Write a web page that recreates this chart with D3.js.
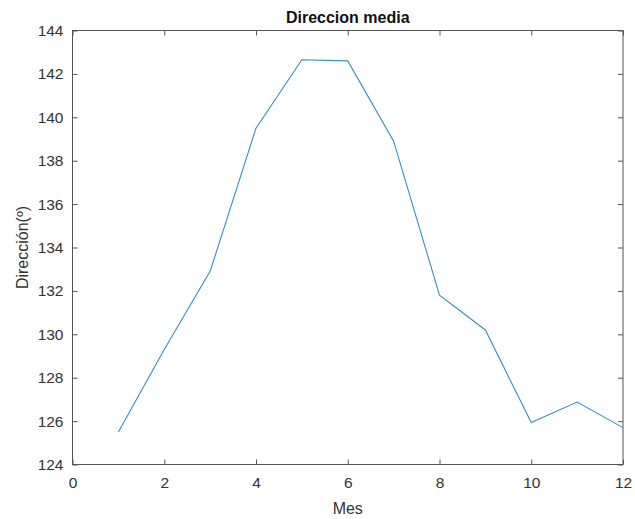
<!DOCTYPE html>
<html>
<head>
<meta charset="utf-8">
<script src="https://cdn.jsdelivr.net/npm/d3@7"></script>
<style>
  html, body { margin: 0; padding: 0; background: #fff; }
  svg { display: block; font-family: "Liberation Sans", Arial, sans-serif; }
</style>
</head>
<body>
<svg id="chart" width="635" height="519"></svg>
<script>
const months = [1, 2, 3, 4, 5, 6, 7, 8, 9, 10, 11, 12];
const direction = [125.5, 129.3, 132.9, 139.5, 142.65, 142.6, 138.9, 131.8, 130.2, 125.93, 126.88, 125.7];
const xTicks = [0, 2, 4, 6, 8, 10, 12];
const yTicks = [124, 126, 128, 130, 132, 134, 136, 138, 140, 142, 144];
const titleText = "Direccion media";
const xLabel = "Mes";
const yLabel = "Dirección(º)";

const svg = d3.select("#chart");
const m = { left: 72.5, right: 623, top: 30.5, bottom: 464.5 };
const axisColor = "#555";
const textColor = "#333";

const x = d3.scaleLinear().domain([0, 12]).range([m.left, m.right]);
const y = d3.scaleLinear().domain([124, 144]).range([m.bottom, m.top]);

// box
svg.append("rect")
  .attr("x", m.left).attr("y", m.top)
  .attr("width", m.right - m.left).attr("height", m.bottom - m.top)
  .attr("fill", "none").attr("stroke", axisColor).attr("stroke-width", 1);

const tl = 5;
svg.append("g").attr("transform", `translate(0,${m.bottom})`)
  .call(d3.axisBottom(x).tickValues(xTicks).tickSize(-tl).tickPadding(12).tickFormat(d3.format("d")));
svg.append("g").attr("transform", `translate(0,${m.top})`)
  .call(d3.axisTop(x).tickValues(xTicks).tickSize(-tl).tickFormat(""));
svg.append("g").attr("transform", `translate(${m.left},0)`)
  .call(d3.axisLeft(y).tickValues(yTicks).tickSize(-tl).tickPadding(9).tickFormat(d3.format("d")));
svg.append("g").attr("transform", `translate(${m.right},0)`)
  .call(d3.axisRight(y).tickValues(yTicks).tickSize(-tl).tickFormat(""));

svg.selectAll(".domain").remove();
svg.selectAll(".tick line").attr("stroke", axisColor);
svg.selectAll(".tick text")
  .attr("fill", textColor)
  .style("font-size", "15.5px")
  .style("font-family", "'Liberation Sans', Arial, sans-serif");

const line = d3.line().x((d, i) => x(months[i])).y(d => y(d));
svg.append("path")
  .datum(direction)
  .attr("d", line)
  .attr("fill", "none")
  .attr("stroke", "#3a8cc4")
  .attr("stroke-width", 1.1);

svg.append("text")
  .attr("x", (m.left + m.right) / 2).attr("y", 23)
  .attr("text-anchor", "middle")
  .style("font-size", "16px").style("font-weight", "bold")
  .attr("fill", "#111")
  .text(titleText);

svg.append("text")
  .attr("x", (m.left + m.right) / 2).attr("y", 514)
  .attr("text-anchor", "middle")
  .style("font-size", "16px")
  .attr("fill", textColor)
  .text(xLabel);

svg.append("text")
  .attr("transform", `translate(28,${(m.top + m.bottom) / 2}) rotate(-90)`)
  .attr("text-anchor", "middle")
  .style("font-size", "16px")
  .attr("fill", textColor)
  .text(yLabel);
</script>
</body>
</html>
